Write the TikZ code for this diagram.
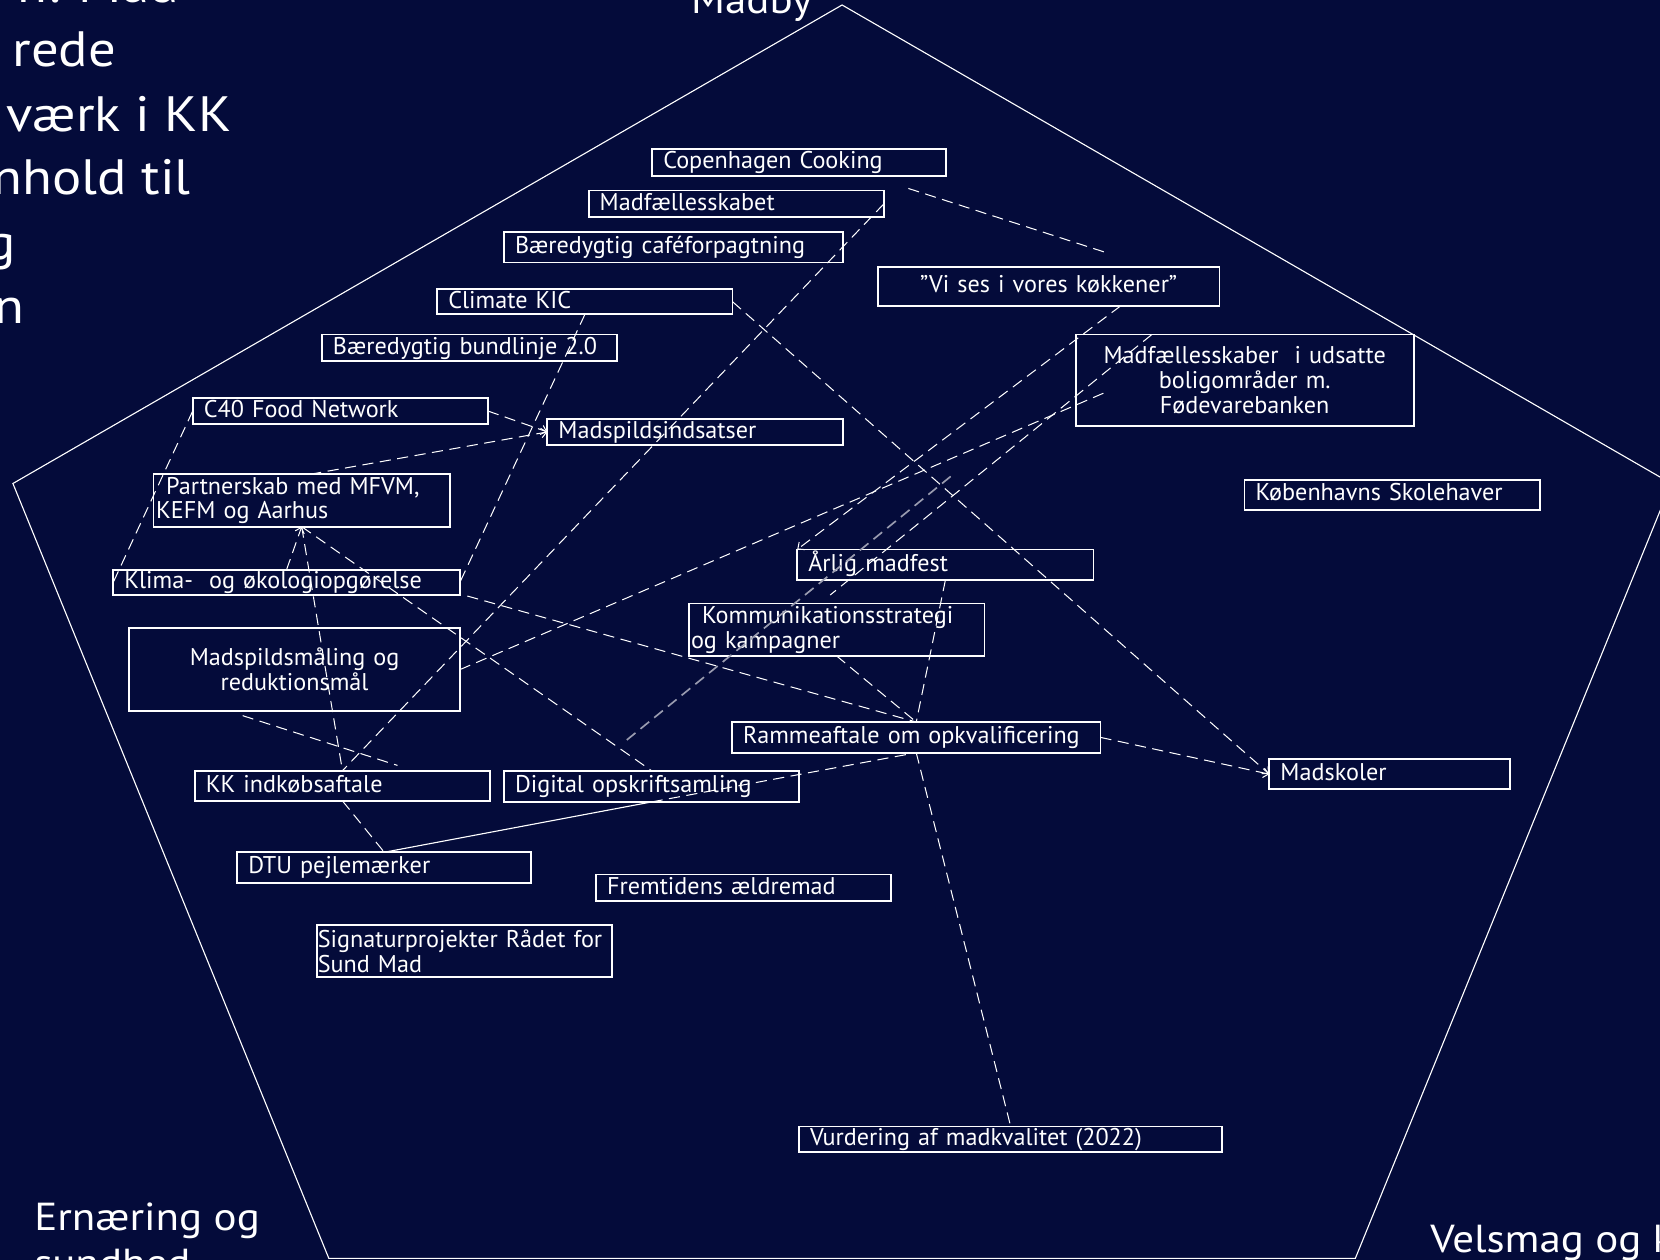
\documentclass[tikz,border=0pt]{standalone}
\usepackage{fontspec}
\setmainfont{PT Sans}
\newfontfamily\widefamily{PT Sans}[FakeStretch=1.10]
\usetikzlibrary{arrows.meta, calc}
\definecolor{kkblue}{HTML}{040B3A}
\definecolor{kkgray}{HTML}{9A9CB0}
\newcommand{\boxfont}{\fontsize{13}{13.4}\selectfont}
\newcommand{\lblfont}{\widefamily\fontsize{21}{25}\selectfont}
\newcommand{\ttlfont}{\widefamily\fontsize{26.7}{34.6}\selectfont}

\begin{document}
\begin{tikzpicture}[
    x=0.02cm, y=-0.02cm,
    box/.style={draw=white, line width=1pt, anchor=north west, outer sep=0pt, inner xsep=0.21cm, inner ysep=0pt, align=left, text=white, font=\boxfont},
    one/.style={text height=9pt, text depth=2.2pt},
    link/.style={white, line width=0.55pt, dash pattern=on 6pt off 3.5pt},
    tip/.style={-{Straight Barb[length=1mm, width=1.8mm]}},
    edge/.style={white, line width=0.6pt},
    lbl/.style={text=white, font=\lblfont, inner sep=0pt},
    ttl/.style={text=white, font=\ttlfont, inner sep=0pt},
]

\useasboundingbox (0,0) rectangle (1568,1190);
\fill[kkblue] (0,0) rectangle (1568,1190);

% Pentagon
\draw[edge] (795.4,4.7) -- (1578.6,456.7) -- (1280.2,1188.6) -- (310.6,1188.6) -- (12.2,456.7) -- cycle;

% Title and corner labels
\node[ttl, anchor=base east] (t1) at (169,2) {n: Mad};
\node[ttl, anchor=base east] (t2) at (110,63) {rede};
\node[ttl, anchor=base east] (t3) at (219,124.4) {værk i KK};
\node[ttl, anchor=base east] (t4) at (180.5,184) {nhold til};
\node[ttl, anchor=base east] (t5) at (15,245) {g};
\node[ttl, anchor=base east] (t6) at (23.6,306) {n};
\node[lbl, anchor=base] (madby) at (710,12.6) {Madby};
\node[lbl, anchor=base west, align=left] (ernaering) at (32,1206) {Ernæring og\\sundhed};
\node[lbl, anchor=base west] (velsmag) at (1350.7,1183.5) {Velsmag og k};

% Boxes
\node[box, one, text width=5.14cm, minimum height=0.5cm] (cc) at (616,141) {Copenhagen Cooking};
\node[box, one, text width=5.16cm, minimum height=0.5cm] (mfs) at (556,180) {Madfællesskabet};
\node[box, one, text width=5.98cm, minimum height=0.58cm] (cafe) at (476,219) {Bæredygtig caféforpagtning};
\node[box, one, text width=5.16cm, minimum height=0.48cm] (kic) at (413,273) {Climate KIC};
\node[box, one, text width=5.16cm, minimum height=0.5cm] (bund) at (304,316) {Bæredygtig bundlinje 2.0};
\node[box, one, text width=5.16cm, minimum height=0.49cm] (c40) at (182,376) {C40 Food Network};
\node[box, one, text width=5.16cm, minimum height=0.48cm] (msi) at (517,396) {Madspildsindsatser};
\node[box, one, align=center, text width=6.04cm, minimum height=0.74cm] (vises) at (829,252) {”Vi ses i vores køkkener”};
\node[box, align=center, text width=5.97cm, minimum height=1.73cm] (mfu) at (1016,316) {Madfællesskaber\ \ i udsatte\\boligområder m.\\Fødevarebanken};
\node[box, one, text width=5.17cm, minimum height=0.57cm] (skole) at (1175.5,453) {Københavns Skolehaver};
\node[box, inner xsep=0.05cm, text width=5.5cm, minimum height=0.99cm] (partner) at (145,448) {\hspace*{0.19cm}Partnerskab med MFVM,\\KEFM og Aarhus};
\node[box, one, text width=6.13cm, minimum height=0.48cm] (klima) at (107,538) {Klima-\ \ og økologiopgørelse};
\node[box, align=center, text width=5.83cm, minimum height=1.58cm] (msm) at (122,593) {Madspildsmåling og\\reduktionsmål};
\node[box, one, text width=5.18cm, minimum height=0.58cm] (fest) at (753,519) {Årlig madfest};
\node[box, inner xsep=0.046cm, text width=5.5cm, minimum height=0.99cm] (komm) at (650.4,570) {\hspace*{0.21cm}Kommunikationsstrategi\\og kampagner};
\node[box, one, text width=6.54cm, minimum height=0.58cm] (ramme) at (691.5,682) {Rammeaftale om opkvalificering};
\node[box, one, text width=4.12cm, minimum height=0.57cm] (madskoler) at (1199,717) {Madskoler};
\node[box, one, text width=5.16cm, minimum height=0.57cm] (kk) at (184,728) {KK indkøbsaftale};
\node[box, one, text width=5.16cm, minimum height=0.59cm] (digital) at (476,728) {Digital opskriftsamling};
\node[box, one, text width=5.14cm, minimum height=0.58cm] (dtu) at (224,805) {DTU pejlemærker};
\node[box, one, text width=5.16cm, minimum height=0.5cm] (aeldre) at (563,826) {Fremtidens ældremad};
\node[box, inner xsep=0.014cm, text width=5.55cm, minimum height=0.98cm] (signatur) at (299.5,874) {Signaturprojekter Rådet for\\Sund Mad};
\node[box, one, text width=7.58cm, minimum height=0.49cm] (vurd) at (754.7,1064) {Vurdering af madkvalitet (2022)};

% Free ends
\coordinate (c1) at (858,178);
\coordinate (c2) at (1043,238);
\coordinate (g1) at (898,450);
\coordinate (g2) at (592,699);

% Connectors
\draw[link] (c1) -- (c2);
\draw[link] (mfs.east) -- (kk.north);
\draw[link, tip] (kic.east) -- (madskoler.west);
\draw[link, tip] (ramme.east) -- (madskoler.west);
\draw[link] (kic.south) -- (klima.east);
\draw[link, tip] (c40.east) -- (msi.west);
\draw[link, tip] ($(partner.north)+(8,0)$) -- (msi.west);
\draw[link] (c40.west) -- (klima.west);
\draw[link, tip] (klima.north) -- (partner.south);
\draw[link] (partner.south) -- (kk.north);
\draw[link] (partner.south) -- (digital.north);
\draw[link] ($(klima.south east)+(7,1)$) -- (ramme.north);
\draw[link] (msm.east) -- ($(mfu.west)+(29,11)$);
\draw[link] ($(msm.south)+(-49,4)$) -- ($(kk.north)+(52,-5)$);
\draw[link] (kk.south) -- (dtu.north);
\draw[edge] (dtu.north) -- (digital.south);
\draw[link] (digital.south) -- (ramme.south);
\draw[link] (komm.south) -- (ramme.north);
\draw[link] (fest.south) -- (ramme.north);
\draw[link] (ramme.south) -- (vurd.north);
\draw[link, tip] ($(vises.south)+(68,0)$) -- (fest.north west);
\draw[link] ($(mfu.north west)+(72,0)$) -- ($(komm.north)+(-6,-8)$);
\draw[link, kkgray, line width=0.9pt] (g1) -- (g2);

\end{tikzpicture}
\end{document}
